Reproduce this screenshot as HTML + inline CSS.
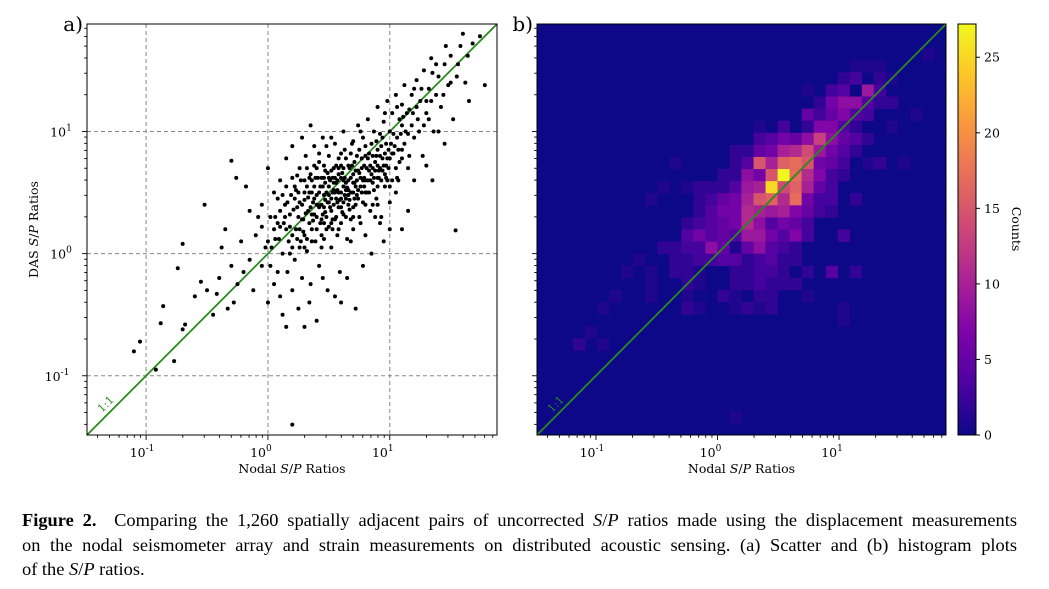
<!DOCTYPE html>
<html><head><meta charset="utf-8"><style>
body{margin:0;background:#fff;}
svg{display:block;font-family:"DejaVu Serif","Liberation Serif",serif;}
.cap{position:absolute;left:22px;top:508px;width:995px;font-family:"Liberation Serif",serif;font-size:18.4px;line-height:24.5px;color:#000;}
.cap div{text-align:justify;text-align-last:justify;white-space:nowrap;}
.cap div.last{text-align-last:left;}
</style></head><body>
<div style="position:relative;width:1049px;height:589px;overflow:hidden">
<svg id="fig" width="1049" height="589"></svg>
<div class="cap">
<div><b>Figure 2.</b>&nbsp; Comparing the 1,260 spatially adjacent pairs of uncorrected <i>S</i>/<i>P</i> ratios made using the displacement measurements</div>
<div>on the nodal seismometer array and strain measurements on distributed acoustic sensing. (a) Scatter and (b) histogram plots</div>
<div class="last">of the <i>S</i>/<i>P</i> ratios.</div>
</div>
</div>
<script>
// scatter data: log10(nodal S/P), log10(DAS S/P)
const scatterPoints = [
[-1.1,-0.8],[-1.05,-0.72],[-0.92,-0.95],[-0.86,-0.43],[-0.88,-0.57],[-0.77,-0.88],[-0.7,-0.62],[-0.68,-0.58],[-0.7,0.08],[-0.74,-0.12],[-0.52,0.4],[-0.55,-0.23],[-0.3,0.76],[0.2,-1.4],[1.54,0.19],[1.78,1.38],[1.74,1.78],[1.68,1.72],
[-0.6,-0.35],[-0.5,-0.3],[-0.45,-0.5],[-0.4,-0.2],[-0.38,0.05],[-0.3,-0.1],[-0.28,-0.4],[-0.25,-0.25],[-0.22,0.1],[-0.2,-0.15],[-0.18,0.55],[-0.15,-0.05],[-0.12,-0.3],[-0.1,0.15],[-0.08,0.3],[-0.05,-0.1],[-0.02,0.05],[-0.35,0.2],[-0.42,-0.33],[-0.26,0.62],[-0.33,-0.45],[-0.15,0.35],
[0.0,-0.4],[0.02,-0.1],[0.03,0.05],[0.05,0.2],[0.06,0.3],[0.08,0.45],[0.05,-0.25],[0.09,0.12],[0.1,-0.35],[0.12,0.0],[0.13,0.25],[0.14,0.4],[0.15,0.55],[0.16,-0.15],[0.17,0.1],[0.18,0.32],[0.19,0.48],[0.2,0.62],[0.12,-0.5],[0.22,-0.05],[0.2,-0.3],[0.23,0.2],[0.24,0.38],[0.25,0.5],[0.26,0.7],[0.27,0.1],[0.28,-0.2],[0.29,0.28],[0.3,0.44],[0.3,0.6],[0.31,0.8],[0.32,0.02],[0.33,0.35],[0.34,0.5],[0.34,-0.4],[0.35,0.65],[0.36,0.2],[0.37,0.42],[0.38,0.55],[0.38,0.88],[0.39,0.1],[0.4,0.3],[0.4,0.48],[0.41,0.62],[0.42,-0.1],[0.42,0.75],[0.43,0.25],[0.44,0.4],[0.45,0.55],[0.45,0.95],[0.46,0.12],[0.47,0.34],[0.47,0.68],[0.48,0.5],[0.49,-0.3],[0.5,0.22],[0.5,0.42],[0.5,0.8],[0.51,0.6],[0.52,0.05],[0.52,0.35],[0.53,0.5],[0.54,0.7],[0.55,0.28],[0.55,0.9],[0.56,0.45],[0.57,0.15],[0.57,0.6],[0.58,0.38],[0.58,0.78],[0.59,-0.15],[0.6,0.5],[0.6,0.25],[0.61,0.66],[0.62,0.42],[0.62,1.0],[0.63,0.85],[0.64,0.3],[0.64,0.58],[0.65,0.12],[0.66,0.48],[0.66,0.72],[0.67,0.36],[0.68,0.62],[0.69,0.9],[0.7,0.2],[0.7,0.5],[0.71,0.75],[0.72,0.4],[0.72,-0.45],[0.73,0.6],[0.74,1.05],[0.75,0.3],[0.75,0.85],[0.76,0.55],[0.77,0.7],[0.78,0.42],[0.78,0.95],[0.79,0.62],[0.8,0.15],[0.8,0.8],[0.81,0.5],[0.82,1.1],[0.83,0.68],[0.84,0.35],[0.85,0.9],[0.86,0.58],[0.87,1.0],[0.88,0.75],[0.89,0.45],[0.9,0.85],[0.9,1.2],[0.91,0.62],[0.92,0.98],[0.93,0.3],[0.94,0.78],[0.95,1.08],[0.96,0.55],[0.97,0.9],[0.98,1.25],[0.99,0.7],[1.0,1.0],[1.0,0.42],[1.02,1.15],[1.03,0.82],[1.05,1.3],[1.06,0.95],[1.07,0.6],[1.08,1.1],[1.1,1.22],[1.1,0.85],[1.12,1.38],[1.13,1.0],[1.15,0.7],[1.16,1.18],[1.18,1.3],[1.2,0.95],[1.22,1.42],[1.23,1.1],[1.25,1.25],[1.27,0.8],[1.28,1.5],[1.3,1.15],[1.32,1.35],[1.34,1.6],[1.36,1.0],[1.38,1.3],[1.4,1.45],[1.42,1.2],[1.45,1.55],[1.48,1.38],[1.5,1.62],[1.52,1.1],[1.55,1.45],[1.58,1.7],[1.62,1.4],[1.65,1.25],[1.05,0.5],[1.15,0.35],[1.2,0.6],[0.95,0.1],[1.1,0.2],[0.85,0.0],[0.65,-0.2],[0.55,-0.35],[0.45,-0.2],[0.35,-0.25],[0.25,-0.45],[0.4,-0.55],[0.6,-0.4],[0.15,-0.6],[0.3,-0.6],[0.78,-0.1],[0.92,0.25],[1.0,0.2],[1.3,0.72],[1.45,0.9],[1.35,0.6],
[0.1,0.6],[0.05,0.5],[-0.05,0.4],[0.0,0.7],[0.15,0.78],[0.2,0.88],[0.28,0.95],[0.35,1.05],[0.25,0.3],[0.18,0.0],[0.08,-0.15],[0.36,0.6],[0.44,0.15],[0.48,0.88],[0.53,0.2],[0.58,0.5],[0.62,0.32],[0.68,0.1],[0.7,0.92],[0.74,0.45],[0.76,0.25],[0.82,0.6],[0.86,0.8],[0.88,0.3],[0.92,0.7],[0.96,0.82],[1.02,0.6],[1.08,0.75],[1.12,0.9],[1.18,1.05],[1.24,1.0],[1.3,1.25],[1.35,1.48],[1.4,1.0],[1.44,1.3],[0.3,0.15],[0.32,0.7],[0.42,0.5],[0.46,0.25],[0.5,0.62],[0.54,0.4],[0.56,0.72],[0.6,0.82],[0.64,0.45],[0.66,0.6],[0.68,0.28],[0.72,0.55],[0.74,0.68],[0.8,0.4],[0.84,0.72],[0.9,0.55],[0.94,0.95],[0.98,0.6],[1.04,0.88],[1.1,1.05],[1.16,0.8],[1.22,1.2],[1.26,1.35],[1.32,1.1],[1.38,1.55],[0.22,0.45],[0.26,0.2],[0.38,0.32],[0.4,0.7],[0.52,0.95],[0.58,0.2],[0.62,0.7],[0.7,0.38],[0.76,1.0],[0.8,0.6],[0.86,0.4],[0.9,0.72],[0.96,1.15],[1.0,0.78],[1.06,1.2],[1.14,1.15],[1.2,1.35],[1.28,1.05],[1.34,1.25],[1.46,1.7],[1.5,1.4],[1.56,1.55],[1.6,1.8],[1.64,1.62],[0.46,0.48],[0.48,0.3],[0.5,0.55],[0.52,0.45],[0.54,0.58],[0.56,0.3],[0.58,0.65],[0.6,0.38],[0.62,0.55],[0.44,0.62],[0.42,0.38],[0.46,0.72],[0.38,0.45],[0.64,0.52],[0.66,0.4],[0.68,0.5],[0.7,0.65],[0.36,0.5],[0.34,0.25],[0.32,0.55],[0.55,0.5],[0.57,0.42],[0.53,0.62],[0.49,0.42],[0.47,0.58],[0.6,0.62],[0.63,0.48],[0.67,0.7],[0.71,0.45],[0.73,0.8],[0.77,0.5],[0.79,0.72],[0.83,0.5],[0.87,0.62],[0.89,0.92],[0.93,0.6],[0.97,0.72],[1.01,0.9],[1.05,0.7],[1.09,0.98],[0.15,0.2],[0.1,0.35],[0.22,0.55],[0.28,0.4],[0.3,0.05],[0.2,0.15],[0.4,0.2],[0.44,0.05],[0.08,0.25],[0.0,0.1],[-0.05,0.22],[0.12,0.48],
[0.18,0.22],[0.21,0.36],[0.23,0.52],[0.26,0.42],[0.27,0.6],[0.29,0.18],[0.31,0.33],[0.33,0.46],[0.35,0.38],[0.37,0.27],[0.39,0.62],[0.41,0.4],[0.43,0.55],[0.45,0.32],[0.47,0.44],[0.49,0.66],[0.51,0.38],[0.53,0.28],[0.55,0.62],[0.57,0.52],[0.59,0.44],[0.61,0.34],[0.63,0.62],[0.65,0.54],[0.67,0.44],[0.69,0.72],[0.71,0.58],[0.73,0.48],[0.75,0.66],[0.77,0.78],[0.79,0.55],[0.81,0.7],[0.83,0.82],[0.85,0.65],[0.87,0.52],[0.89,0.8],[0.91,0.68],[0.93,0.88],[0.95,0.72],[0.97,0.62],[0.99,0.85],[1.03,0.98],[1.07,0.85],[1.11,1.12],[1.15,0.98],[1.19,1.15],[0.2,0.05],[0.24,0.12],[0.28,0.28],[0.32,0.12],[0.36,0.32],[0.4,0.4],[0.44,0.28],[0.48,0.2],[0.52,0.68],[0.56,0.58],[0.6,0.72],[0.64,0.78],[0.68,0.82],[0.72,0.68],[0.76,0.62],[0.8,0.88],[0.84,0.6],[0.88,0.68],[0.92,0.8],[0.96,0.65],[0.14,0.3],[0.16,0.42],[0.24,0.64],[0.3,0.5],[0.34,0.62],[0.38,0.72],[0.42,0.82],[0.46,0.62],[0.5,0.48],[0.54,0.52],[0.58,0.7],[0.62,0.6],[0.66,0.52],[0.7,0.58],[0.74,0.52],[0.78,0.6],[0.82,0.78],[0.86,0.7],[0.9,0.62],[0.94,0.68],[0.98,0.78],[1.02,0.82],[1.06,0.62],[1.1,0.78],[0.06,0.12],[0.1,0.22],[0.02,0.3],[0.26,0.05],[0.36,0.1],[0.46,0.38],[0.52,0.25],[0.6,0.45],[0.7,0.3],[0.8,0.5],[0.9,0.4],[1.0,0.55]
];
// histogram (panel b): bin column, bin row (0 = bottom/left), counts
const binCols=[26,27,28,25,26,28,29,22,24,25,27,28,23,24,25,26,27,28,22,23,24,25,26,27,18,20,22,23,24,25,26,18,19,20,21,22,23,24,25,26,27,16,17,18,19,20,21,22,23,24,25,26,11,16,17,18,19,20,21,22,23,24,25,27,28,15,16,17,18,19,20,21,22,23,24,25,12,13,14,15,16,17,18,19,20,21,22,23,24,9,13,14,15,16,17,18,19,20,21,22,23,24,26,13,14,15,16,17,18,19,20,21,22,23,24,12,13,14,15,16,17,18,19,20,21,22,12,13,14,15,16,17,18,19,20,21,22,25,10,11,12,13,14,15,16,17,18,19,20,21,11,12,13,14,15,16,17,18,19,20,21,9,11,12,13,16,17,18,19,20,22,24,26,9,12,13,16,17,18,19,20,21,9,12,15,16,18,19,22,12,13,16,17,18,19,25,3,4,5,6,7,9,16,8,5,10,29,30,29,31,32,25];
const binRows=[30,30,30,29,29,29,29,28,28,28,28,28,27,27,27,27,27,27,26,26,26,26,26,26,25,25,25,25,25,25,25,24,24,24,24,24,24,24,24,24,24,23,23,23,23,23,23,23,23,23,23,23,22,22,22,22,22,22,22,22,22,22,22,22,22,21,21,21,21,21,21,21,21,21,21,21,20,20,20,20,20,20,20,20,20,20,20,20,20,19,19,19,19,19,19,19,19,19,19,19,19,19,19,18,18,18,18,18,18,18,18,18,18,18,18,17,17,17,17,17,17,17,17,17,17,17,16,16,16,16,16,16,16,16,16,16,16,16,15,15,15,15,15,15,15,15,15,15,15,15,14,14,14,14,14,14,14,14,14,14,14,13,13,13,13,13,13,13,13,13,13,13,13,12,12,12,12,12,12,12,12,12,11,11,11,11,11,11,11,10,10,10,10,10,10,10,7,8,10,11,13,19,1,14,7,20,25,22,27,26,31,9];
const binCounts=[1,1,1,2,3,2,1,1,3,4,9,3,2,6,8,8,4,2,5,3,5,7,4,3,1,3,2,7,7,4,2,3,4,6,5,8,13,8,5,4,2,2,2,5,6,10,11,14,9,6,4,2,1,2,4,15,10,16,17,15,6,5,3,1,2,2,2,8,6,15,27,17,11,7,3,2,1,2,2,2,4,9,10,25,14,16,10,5,3,1,2,3,5,6,10,15,16,11,17,6,3,3,2,2,4,6,6,11,10,9,10,7,5,3,2,2,3,4,5,6,11,8,4,6,5,3,4,6,4,5,4,9,9,6,4,7,3,3,2,2,3,3,8,5,1,5,8,4,3,2,2,2,3,3,4,4,2,3,4,2,2,1,2,2,1,2,2,3,3,2,2,4,2,1,2,1,2,2,3,2,2,2,1,1,2,1,2,2,1,2,1,1,2,1,2,1,2,1,1,1,1,1,1,1,1,1,1,1,2,1,1,1];
const xTickExps=[-1,0,1];
const cbTicks=[0,5,10,15,20,25];

const NS='http://www.w3.org/2000/svg';
const svg=document.getElementById('fig');
function mk(tag,attrs,parent){const e=document.createElementNS(NS,tag);for(const k in attrs)e.setAttribute(k,attrs[k]);(parent||svg).appendChild(e);return e;}
const LMIN=-1.485,LMAX=1.88;
const A={x0:87,x1:497,y0:24,y1:435};
const B={x0:537,x1:946,y0:24,y1:435};
function sx(P,l){return P.x0+(l-LMIN)/(LMAX-LMIN)*(P.x1-P.x0);}
function sy(P,l){return P.y1-(l-LMIN)/(LMAX-LMIN)*(P.y1-P.y0);}
const VMAX=27.2;
const stops=[[13,8,135],[76,2,161],[126,3,168],[169,35,149],[204,71,120],[230,108,92],[248,149,64],[253,197,39],[240,249,33]];
function plasma(v){let t=Math.max(0,Math.min(1,v/VMAX))*8;const i=Math.min(7,Math.floor(t)),f=t-i;const a=stops[i],b=stops[i+1];return `rgb(${a.map((c,k)=>Math.round(c+(b[k]-c)*f)).join(',')})`;}

const hb=mk('g',{});


mk('rect',{x:B.x0,y:B.y0,width:B.x1-B.x0,height:B.y1-B.y0,fill:plasma(0)},hb);
const NB=34,bw=(LMAX-LMIN)/NB;
for(let k=0;k<binCounts.length;k++){
  const lx=LMIN+binCols[k]*bw,ly=LMIN+binRows[k]*bw;
  const r=mk('rect',{x:sx(B,lx),y:sy(B,ly+bw),width:sx(B,lx+bw)-sx(B,lx)+0.3,height:sy(B,ly)-sy(B,ly+bw)+0.3,fill:plasma(binCounts[k])},hb);
  
  
}

function axes(P,grid,name){
  const g=mk('g',{});
  
  
  for(const e of xTickExps){
    if(grid){
      mk('line',{x1:sx(P,e),x2:sx(P,e),y1:P.y0,y2:P.y1,stroke:'#888','stroke-dasharray':'4,3','stroke-width':1},g);
      mk('line',{x1:P.x0,x2:P.x1,y1:sy(P,e),y2:sy(P,e),stroke:'#888','stroke-dasharray':'4,3','stroke-width':1},g);
    }
  }
  return g;
}
const ga=axes(A,true,'scatter-axes');
for(const P of [A,B]){
  const l=mk('line',{x1:sx(P,LMIN),y1:sy(P,LMIN),x2:sx(P,LMAX),y2:sy(P,LMAX),stroke:'#2a8a1e','stroke-width':1.8});
  
  
}
const gs=mk('g',{});


for(const p of scatterPoints){
  const c=mk('circle',{cx:sx(A,p[0]),cy:sy(A,p[1]),r:2.0,fill:'#000'},gs);
  
  
}
function frame(P,ylabels){
  mk('rect',{x:P.x0,y:P.y0,width:P.x1-P.x0,height:P.y1-P.y0,fill:'none',stroke:'#000','stroke-width':1});
  for(let d=-2;d<=1;d++){for(let m=1;m<10;m++){
    const l=d+Math.log10(m);if(l<LMIN||l>LMAX)continue;
    const len=m==1?5:2.8;
    mk('line',{x1:sx(P,l),x2:sx(P,l),y1:P.y1,y2:P.y1+len,stroke:'#000','stroke-width':0.9});
    mk('line',{x1:P.x0,x2:P.x0-len,y1:sy(P,l),y2:sy(P,l),stroke:'#000','stroke-width':0.9});
  }}
  for(const e of xTickExps){
    const t=mk('text',{x:sx(P,e)-7,y:P.y1+22,'font-size':12.5,'text-anchor':'middle'});
    
    
    t.innerHTML=`10<tspan dy="-6" font-size="9">${e}</tspan>`;
    if(e==-1)t.setAttribute('x',sx(P,e)-4);
    if(ylabels){
      const u=mk('text',{x:P.x0-26,y:sy(P,e)+5,'font-size':12.5,'text-anchor':'middle'});
      
      
      u.innerHTML=`10<tspan dy="-6" font-size="9">${e}</tspan>`;
      if(e==-1)u.setAttribute('x',P.x0-30);
    }
  }
  const xl=mk('text',{x:(P.x0+P.x1)/2,y:P.y1+38,'font-size':12.5,'text-anchor':'middle'});
  
  
  xl.innerHTML='Nodal <tspan font-style="italic">S</tspan>/<tspan font-style="italic">P</tspan> Ratios';
}
frame(A,true);frame(B,false);
const yl=mk('text',{x:0,y:0,'font-size':12.5,'text-anchor':'middle',transform:`translate(38,${(A.y0+A.y1)/2}) rotate(-90)`});


yl.innerHTML='DAS <tspan font-style="italic">S</tspan>/<tspan font-style="italic">P</tspan> Ratios';
for(const [P,lab] of [[A,'a)'],[B,'b)']]){
  const t=mk('text',{x:P.x0-4,y:P.y0+7,'font-size':20,'text-anchor':'end'});
  
  
  t.textContent=lab;
  const o=mk('text',{x:0,y:0,'font-size':11,fill:'#2a8a1e',transform:`translate(${P.x0+15},${P.y1-22}) rotate(-45)`});
  
  
  o.textContent='1:1';
}
const CB={x0:958,x1:976,y0:24,y1:435};
const defs=mk('defs',{});
const lg=mk('linearGradient',{id:'cbg',x1:0,y1:1,x2:0,y2:0},defs);
for(let i=0;i<=16;i++)mk('stop',{offset:i/16,'stop-color':plasma(VMAX*i/16)},lg);
const cb=mk('rect',{x:CB.x0,y:CB.y0,width:CB.x1-CB.x0,height:CB.y1-CB.y0,fill:'url(#cbg)',stroke:'#000','stroke-width':1});


for(const v of cbTicks){
  const y=CB.y1-v/VMAX*(CB.y1-CB.y0);
  mk('line',{x1:CB.x1,x2:CB.x1+4,y1:y,y2:y,stroke:'#000'});
  const t=mk('text',{x:CB.x1+8,y:y+4.5,'font-size':12.5});
  
  
  t.textContent=v;
}
const cl=mk('text',{x:0,y:0,'font-size':12.5,'text-anchor':'middle',transform:`translate(1012,229) rotate(90)`});


cl.textContent='Counts';
</script>
</body></html>
